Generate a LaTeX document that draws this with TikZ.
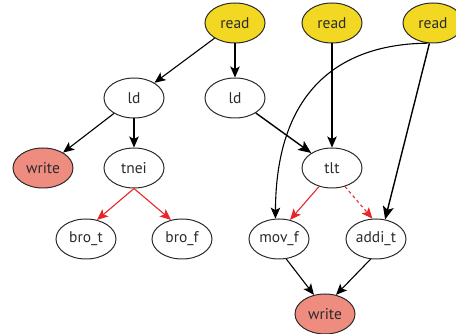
\documentclass[tikz,border=0pt]{standalone}
\usepackage{fontspec}
\setmainfont{PT Sans}
\usetikzlibrary{shapes.geometric,arrows.meta}
\definecolor{rdfill}{HTML}{F2D823}
\definecolor{wrfill}{HTML}{EF8C80}
\definecolor{redge}{HTML}{E8262A}
\definecolor{txt}{HTML}{2B2B2B}
\tikzset{
  nd/.style={ellipse,draw=txt,line width=1pt,minimum width=60pt,minimum height=40pt,inner sep=0pt,font=\fontsize{15.5}{17}\selectfont,text=txt},
  rd/.style={nd,fill=rdfill},
  wr/.style={nd,fill=wrfill},
  ed/.style={line width=1.1pt,-{Stealth[length=11pt,width=9.5pt,inset=2.5pt]}},
  edb/.style={line width=1.4pt,-{Stealth[length=13pt,width=11pt,inset=3pt]}},
  red/.style={ed,draw=redge,color=redge}
}
\begin{document}
\begin{tikzpicture}[x=1pt,y=-1pt]
\useasboundingbox (0,0) rectangle (456,334);
\node[rd] (r1) at (235,23) {read};
\node[rd] (r2) at (332,23) {read};
\node[rd] (r3) at (433,23) {read};
\node[nd] (ld1) at (134,98) {ld};
\node[nd] (ld2) at (235,98) {ld};
\node[wr] (w1) at (43,168) {write};
\node[nd] (tnei) at (134,168) {tnei};
\node[nd] (tlt) at (332,168) {tlt};
\node[nd] (brot) at (86,239) {bro\_t};
\node[nd] (brof) at (182,239) {bro\_f};
\node[nd] (movf) at (279,239) {mov\_f};
\node[nd] (addit) at (376,239) {addi\_t};
\node[wr] (w2) at (325,314) {write};
\draw[ed] (r1) -- (ld1);
\draw[ed] (r1) -- (ld2);
\draw[ed] (ld1) -- (w1);
\draw[ed] (ld1) -- (tnei);
\draw[edb] (ld2) -- (tlt);
\draw[ed] (r2) -- (tlt);
\draw[ed] (r3.255) .. controls (340,44) and (276,90) .. (movf.100);
\draw[edb] (r3.260) -- (addit.65);
\draw[red] (tlt.235) -- (movf.60);
\draw[red,dashed] (tlt.305) -- (addit.100);
\draw[red] (tnei.south) -- (brot.60);
\draw[red] (tnei.south) -- (brof.120);
\draw[ed] (movf.290) -- (w2.120);
\draw[ed] (addit.255) -- (w2.60);
\end{tikzpicture}
\end{document}
